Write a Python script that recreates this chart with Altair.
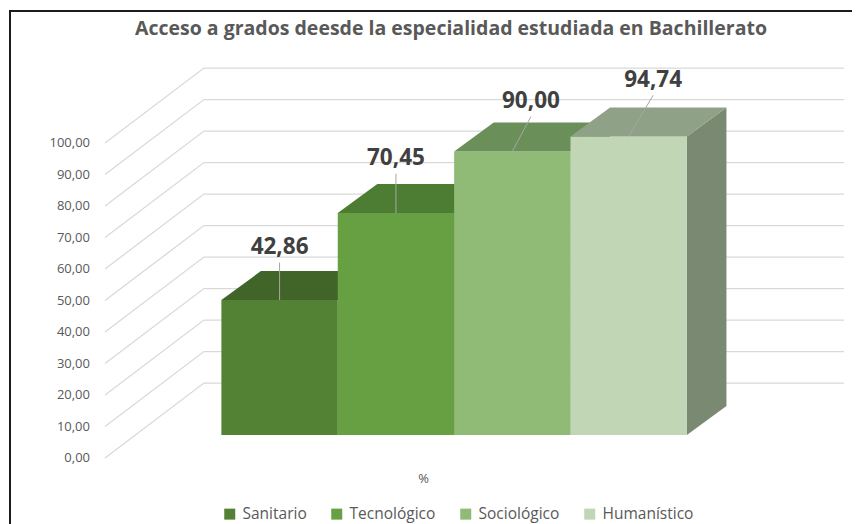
import altair as alt
import pandas as pd

# ---- data ----
categories = ["Sanitario", "Tecnológico", "Sociológico", "Humanístico"]
values = [42.86, 70.45, 90.00, 94.74]
tick_values = [0, 10, 20, 30, 40, 50, 60, 70, 80, 90, 100]
title_text = "Acceso a grados deesde la especialidad estudiada en Bachillerato"

# ---- styles ----
front_colors = ["#548235", "#67a042", "#8fbb77", "#c0d6b4"]
top_colors = ["#416529", "#4d7d33", "#6b8f58", "#8fa287"]
side_colors = ["#3a5a24", "#48722f", "#647f52", "#7a8a72"]
label_nudge_x = [0.0, 0.0, 0.16, 0.21]     # label shift (category units)
label_lift = [16.8, 17.4, 16.0, 18.0]       # label lift above bar (value units)

FONT = "Open Sans"
GRAY = "#595959"

# oblique projection constants
X_MIN, X_MAX = -1.0, 5.35
Y_MAX = 126.35
WALL_DX, WALL_DY = 0.85, 23.8
BAR_BASE = 7.3
BAR_DX, BAR_DY = 0.34, 9.2

xs = alt.Scale(domain=[X_MIN, X_MAX], nice=False, zero=False)
ys = alt.Scale(domain=[0, Y_MAX], nice=False, zero=False)


def X(field="x"):
    return alt.X(f"{field}:Q", scale=xs)


def Y(field="y"):
    return alt.Y(f"{field}:Q", scale=ys)


# gridlines (left wall diagonal + back wall horizontal)
grid_rows = []
for v in tick_values:
    grid_rows.append({"v": v, "o": 0, "x": X_MIN, "y": v})
    grid_rows.append({"v": v, "o": 1, "x": X_MIN + WALL_DX, "y": v + WALL_DY})
    grid_rows.append({"v": v, "o": 2, "x": X_MAX, "y": v + WALL_DY})
grid_df = pd.DataFrame(grid_rows)

grid = alt.Chart(grid_df).mark_line(color="#d9d9d9", strokeWidth=1.3).encode(
    x=alt.X("x:Q", scale=xs, axis=alt.Axis(
        title="%", labels=False, ticks=False, domain=False, grid=False,
        titleX=318, titleY=20, titleBaseline="middle", titleFont=FONT,
        titleFontSize=13, titleFontWeight="normal", titleColor=GRAY)),
    y=alt.Y("y:Q", scale=ys, axis=alt.Axis(
        title="", labels=False, domain=False, ticks=False, grid=False)),
    detail="v:N",
    order="o:Q",
)

# y tick labels on the front plane
tick_df = pd.DataFrame({
    "y": tick_values,
    "lab": [f"{t:.2f}".replace(".", ",") for t in tick_values],
})
ticks = alt.Chart(tick_df).mark_text(
    font=FONT, fontSize=13, color=GRAY, align="right", baseline="middle", dx=-15
).encode(x=alt.value(0), y=Y(), text="lab:N")

# frame border (decoration)
frame = alt.Chart(pd.DataFrame({"a": [0]})).mark_rect(
    fillOpacity=0, stroke="#1c1c1c", strokeWidth=2
).encode(x=alt.value(-95), x2=alt.value(800), y=alt.value(-49), y2=alt.value(500))

# chart title (as a text mark in the header area)
title = alt.Chart(pd.DataFrame({"t": [title_text]})).mark_text(
    font=FONT, fontSize=19.5, fontWeight="bold", color=GRAY,
    align="center", baseline="alphabetic"
).encode(x=alt.value(346), y=alt.value(-25), text="t:N")

layers = [grid, ticks, frame, title]

color_scale = alt.Scale(domain=categories, range=front_colors)

for i, (cat, v) in enumerate(zip(categories, values)):
    a = BAR_BASE + v
    side_df = pd.DataFrame({
        "x": [i + 1, i + 1 + BAR_DX],
        "y": [BAR_BASE, BAR_BASE + BAR_DY],
        "y2": [a, a + BAR_DY],
    })
    side = alt.Chart(side_df).mark_area(color=side_colors[i], orient="vertical").encode(
        x=X(), y=Y(), y2="y2:Q"
    )
    front_df = pd.DataFrame({"Categoria": [cat], "x": [i], "x2": [i + 1],
                             "y": [BAR_BASE], "y2": [a]})
    front = alt.Chart(front_df).mark_rect().encode(
        x=X(), x2="x2:Q", y=Y(), y2="y2:Q",
        color=alt.Color("Categoria:N", scale=color_scale, legend=alt.Legend(
            orient="none", legendX=117, legendY=446, direction="horizontal",
            title=None, symbolType="square", symbolSize=121, symbolStrokeWidth=0,
            labelFont=FONT, labelFontSize=15.5, labelColor=GRAY, labelOffset=5,
            columnPadding=22, padding=0)),
    )
    top_df = pd.DataFrame({
        "x": [i, i + BAR_DX, i + 1, i + 1 + BAR_DX],
        "y": [a, a, a, a + BAR_DY],
        "y2": [a, a + BAR_DY, a + BAR_DY, a + BAR_DY],
    })
    top = alt.Chart(top_df).mark_area(color=top_colors[i], orient="vertical").encode(
        x=X(), y=Y(), y2="y2:Q"
    )
    layers += [side, front, top]

lab_rows = []
for i, v in enumerate(values):
    lx = i + 0.5 + label_nudge_x[i]
    ly = BAR_BASE + v + label_lift[i]
    lab_rows.append({
        "x": i + 0.5, "y": BAR_BASE + v,
        "lx": lx, "ly": ly, "lyb": ly - 4.9,
        "txt": f"{v:.2f}".replace(".", ","),
    })
lab_df = pd.DataFrame(lab_rows)

leaders = alt.Chart(lab_df).mark_rule(color="#a6a6a6", strokeWidth=1).encode(
    x=X(), y=Y(), x2="lx:Q", y2="lyb:Q"
)
labels = alt.Chart(lab_df).mark_text(
    font=FONT, fontSize=22.5, fontWeight="bold", color="#404040", baseline="middle"
).encode(x=X("lx"), y=Y("ly"), text="txt:N")

layers += [leaders, labels]

chart = alt.layer(*layers).properties(
    width=739, height=398,
    background="white",
    autosize=alt.AutoSizeParams(type="none"),
    padding={"left": 97, "top": 52, "right": 8, "bottom": 66},
).configure_view(strokeWidth=0)

chart.save("out.html", embed_options={"renderer": "svg", "actions": False})
